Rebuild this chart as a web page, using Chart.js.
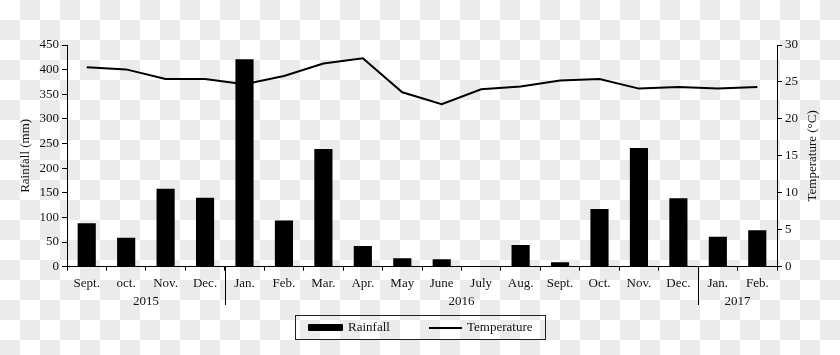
<!DOCTYPE html>
<html><head><meta charset="utf-8">
<script src="https://cdn.jsdelivr.net/npm/chart.js@4/dist/chart.umd.min.js"></script>
<style>
html,body{margin:0;padding:0;}
body{width:840px;height:355px;overflow:hidden;position:relative;
background:repeating-conic-gradient(#ebebeb 0 25%,#fff 0 50%) 0 0/40px 40px;
font-family:"Liberation Serif","Times New Roman",serif;color:#111;}
#c{position:absolute;left:0;top:0;}
#legend{position:absolute;left:295px;top:315px;width:251px;height:25px;border:1px solid #222;box-sizing:border-box;font-size:13px;}
#legend .sw1{position:absolute;left:12px;top:8px;width:35px;height:7px;background:#000;border-radius:1px;}
#legend .t1{position:absolute;left:52px;top:3px;}
#legend .sw2{position:absolute;left:133px;top:11px;width:33px;height:2px;background:#000;}
#legend .t2{position:absolute;left:171px;top:3px;}
</style></head>
<body>
<canvas id="c" width="840" height="355"></canvas>
<div id="legend"><span class="sw1"></span><span class="t1">Rainfall</span><span class="sw2"></span><span class="t2">Temperature</span></div>
<script>
const months = ['Sept.','oct.','Nov.','Dec.','Jan.','Feb.','Mar.','Apr.','May','June','July','Aug.','Sept.','Oct.','Nov.','Dec.','Jan.','Feb.'];
const rainfall = [88,59,158,140,421,94,239,42,17,15,0,44,9,117,241,139,61,74];
const temperature = [27.0,26.7,25.4,25.4,24.7,25.8,27.5,28.2,23.6,22.0,24.0,24.4,25.2,25.4,24.1,24.3,24.1,24.3];
const yearLabels = ['2015','2016','2017'];
const yearStart = [0,4,16];
const yearCount = [4,12,2];
const rainTicks = {min:0,max:450,step:50};
const tempTicks = {min:0,max:30,step:5};

const FONT = {family:'"Liberation Serif","Times New Roman",serif', size:13};
const TXT = '#111';

const extras = {
  id:'extras',
  afterDraw(chart){
    const {ctx, chartArea} = chart;
    const xs = chart.scales.x;
    ctx.save();
    ctx.strokeStyle = '#000';
    ctx.lineWidth = 1;
    // year separators
    for (let i=1;i<yearStart.length;i++){
      const b = yearStart[i];
      const x = Math.round((xs.getPixelForValue(b-1)+xs.getPixelForValue(b))/2)+0.5;
      ctx.beginPath();
      ctx.moveTo(x, chartArea.bottom);
      ctx.lineTo(x, 305);
      ctx.stroke();
    }
    // year labels
    ctx.fillStyle = TXT;
    ctx.font = FONT.size+'px '+FONT.family;
    ctx.textAlign = 'center';
    ctx.textBaseline = 'middle';
    for (let i=0;i<yearLabels.length;i++){
      const a = xs.getPixelForValue(yearStart[i]);
      const z = xs.getPixelForValue(yearStart[i]+yearCount[i]-1);
      ctx.fillText(yearLabels[i], (a+z)/2, 302);
    }
    // axis titles
    const cy = (chartArea.top+chartArea.bottom)/2;
    ctx.save();
    ctx.translate(26, cy);
    ctx.rotate(-Math.PI/2);
    ctx.fillText('Rainfall (mm)', 0, 0);
    ctx.restore();
    ctx.save();
    ctx.translate(813, cy);
    ctx.rotate(-Math.PI/2);
    ctx.fillText('Temperature (°C)', 0, 0);
    ctx.restore();
    ctx.restore();
  }
};

new Chart(document.getElementById('c'), {
  data:{
    labels: months,
    datasets:[
      {type:'line', label:'Temperature', data:temperature, yAxisID:'y1', borderColor:'#000', borderWidth:2, pointRadius:0, tension:0, fill:false, order:0},
      {type:'bar', label:'Rainfall', data:rainfall, yAxisID:'y', backgroundColor:'#000', borderWidth:0, barPercentage:0.46, categoryPercentage:1, order:1}
    ]
  },
  options:{
    responsive:false,
    animation:false,
    devicePixelRatio:1,
    layout:{padding:{top:45,left:0,right:0,bottom:0}},
    plugins:{legend:{display:false}, tooltip:{enabled:false}},
    scales:{
      x:{
        offset:true,
        grid:{display:true, drawOnChartArea:false, drawTicks:true, tickLength:4, color:'#000', offset:true},
        border:{color:'#000', width:1},
        ticks:{font:FONT, color:TXT, padding:5, maxRotation:0, autoSkip:false},
        afterFit(s){ s.height = 88.3; }
      },
      y:{
        position:'left', min:rainTicks.min, max:rainTicks.max,
        ticks:{stepSize:rainTicks.step, font:FONT, color:TXT, padding:3},
        grid:{drawOnChartArea:false, drawTicks:true, tickLength:5, color:'#000'},
        border:{color:'#000', width:1},
        afterFit(s){ s.width = 67; }
      },
      y1:{
        position:'right', min:tempTicks.min, max:tempTicks.max,
        ticks:{stepSize:tempTicks.step, font:FONT, color:TXT, padding:3},
        grid:{drawOnChartArea:false, drawTicks:true, tickLength:5, color:'#000'},
        border:{color:'#000', width:1},
        afterFit(s){ s.width = 63; }
      }
    }
  },
  plugins:[extras]
});
</script>
</body></html>
